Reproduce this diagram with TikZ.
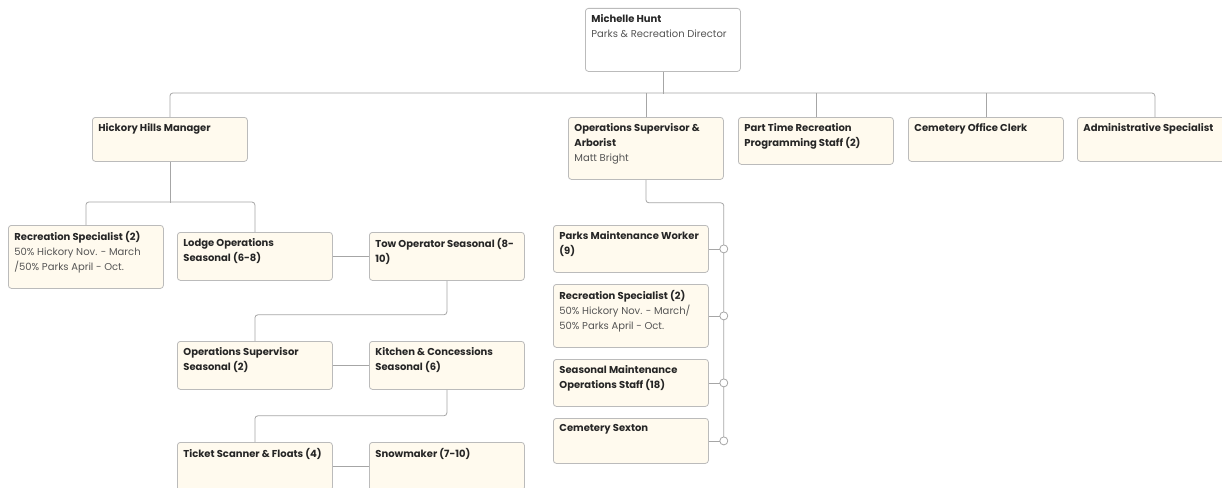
\documentclass[tikz,border=0pt]{standalone}
\usepackage{fontspec}
\setmainfont{Poppins}
\definecolor{cardfill}{HTML}{FFFAEE}
\definecolor{cardline}{HTML}{BBBBBB}
\definecolor{linkgray}{HTML}{A6A6A6}
\definecolor{inkdark}{HTML}{262626}
\definecolor{inkgray}{HTML}{555555}
\tikzset{
  card/.style={draw=cardline, fill=cardfill, line width=0.8pt, rounded corners=3pt,
    anchor=north west, inner sep=6pt, text=inkdark, font=\fontsize{10}{15}\selectfont},
  topcard/.style={card, fill=white},
  link/.style={draw=linkgray, line width=0.8pt, rounded corners=3pt},
  dot/.style={circle, draw=linkgray, fill=white, line width=0.8pt, inner sep=0pt, minimum size=8pt}
}
\newcommand{\cardbody}[2]{\parbox[t][\dimexpr#1pt-12pt\relax][t]{143pt}{#2}}
\newcommand{\sub}[1]{\textcolor{inkgray}{#1}}
\begin{document}
\begin{tikzpicture}[x=1pt,y=-1pt]
    \clip (0,0) rectangle (1222,487);
    \fill[white] (0,0) rectangle (1222,487);
    \node[topcard] (hunt) at (585,8) {\cardbody{63}{\textbf{Michelle Hunt}\\\sub{Parks \& Recreation Director}}};
    \node[card] (hick) at (92,117) {\cardbody{44}{\textbf{Hickory Hills Manager}}};
    \node[card] (ops) at (568,117) {\cardbody{62}{\textbf{Operations Supervisor \&}\\\textbf{Arborist}\\\sub{Matt Bright}}};
    \node[card] (part) at (738,117) {\cardbody{47}{\textbf{Part Time Recreation}\\\textbf{Programming Staff (2)}}};
    \node[card] (clerk) at (908,117) {\cardbody{44}{\textbf{Cemetery Office Clerk}}};
    \node[card] (admin) at (1077,117) {\cardbody{44}{\textbf{Administrative Specialist}}};
    % hickory hills
    \node[card] (recA) at (8,225) {\cardbody{63}{\textbf{Recreation Specialist (2)}\\\sub{50\% Hickory Nov. - March}\\\sub{/50\% Parks April - Oct.}}};
    \node[card] (lodge) at (177,232) {\cardbody{48}{\textbf{Lodge Operations}\\\textbf{Seasonal (6-8)}}};
    \node[card] (tow) at (369,232) {\cardbody{48}{\textbf{Tow Operator Seasonal (8-}\\\textbf{10)}}};
    \node[card] (opsS) at (177,341) {\cardbody{48}{\textbf{Operations Supervisor}\\\textbf{Seasonal (2)}}};
    \node[card] (kitchen) at (369,341) {\cardbody{48}{\textbf{Kitchen \& Concessions}\\\textbf{Seasonal (6)}}};
    \node[card] (ticket) at (177,442) {\cardbody{48}{\textbf{Ticket Scanner \& Floats (4)}}};
    \node[card] (snow) at (369,442) {\cardbody{48}{\textbf{Snowmaker (7-10)}}};
    % operations
    \node[card] (parks) at (553,225) {\cardbody{47}{\textbf{Parks Maintenance Worker}\\\textbf{(9)}}};
    \node[card] (recB) at (553,284) {\cardbody{63}{\textbf{Recreation Specialist (2)}\\\sub{50\% Hickory Nov. - March/}\\\sub{50\% Parks April - Oct.}}};
    \node[card] (seas) at (553,359) {\cardbody{47}{\textbf{Seasonal Maintenance}\\\textbf{Operations Staff (18)}}};
    \node[card] (sexton) at (553,418) {\cardbody{45}{\textbf{Cemetery Sexton}}};

    \draw[link] (hunt.south) -- ++(0,22);
    \draw[link] (hick.north) -- ++(0,-24) -| (admin.north);
    \draw[link] (ops.north) -- ++(0,-24);
    \draw[link] (part.north) -- ++(0,-24);
    \draw[link] (clerk.north) -- ++(0,-24);

    \draw[link] (hick.south) -- ++(0,41);
    \draw[link] (recA.north) -- ++(0,-23) -| (lodge.north);
    \draw[link] (lodge.east) -- (tow.west);
    \draw[link] (tow.south) -- ++(0,34) -| (opsS.north);
    \draw[link] (opsS.east) -- (kitchen.west);
    \draw[link] (kitchen.south) -- ++(0,26) -| (ticket.north);
    \draw[link] (ticket.east) -- (snow.west);

    \coordinate (c4pos) at ([xshift=15]sexton.east);
    \draw[link] (ops.south) -- ++(0,23) -| (c4pos);
    \foreach \cardname/\dotname in {parks/c1, recB/c2, seas/c3, sexton/c4} {
        \draw[link] (\cardname.east) -- ++(15,0) node[dot] (\dotname) {};
    }
\end{tikzpicture}
\end{document}
